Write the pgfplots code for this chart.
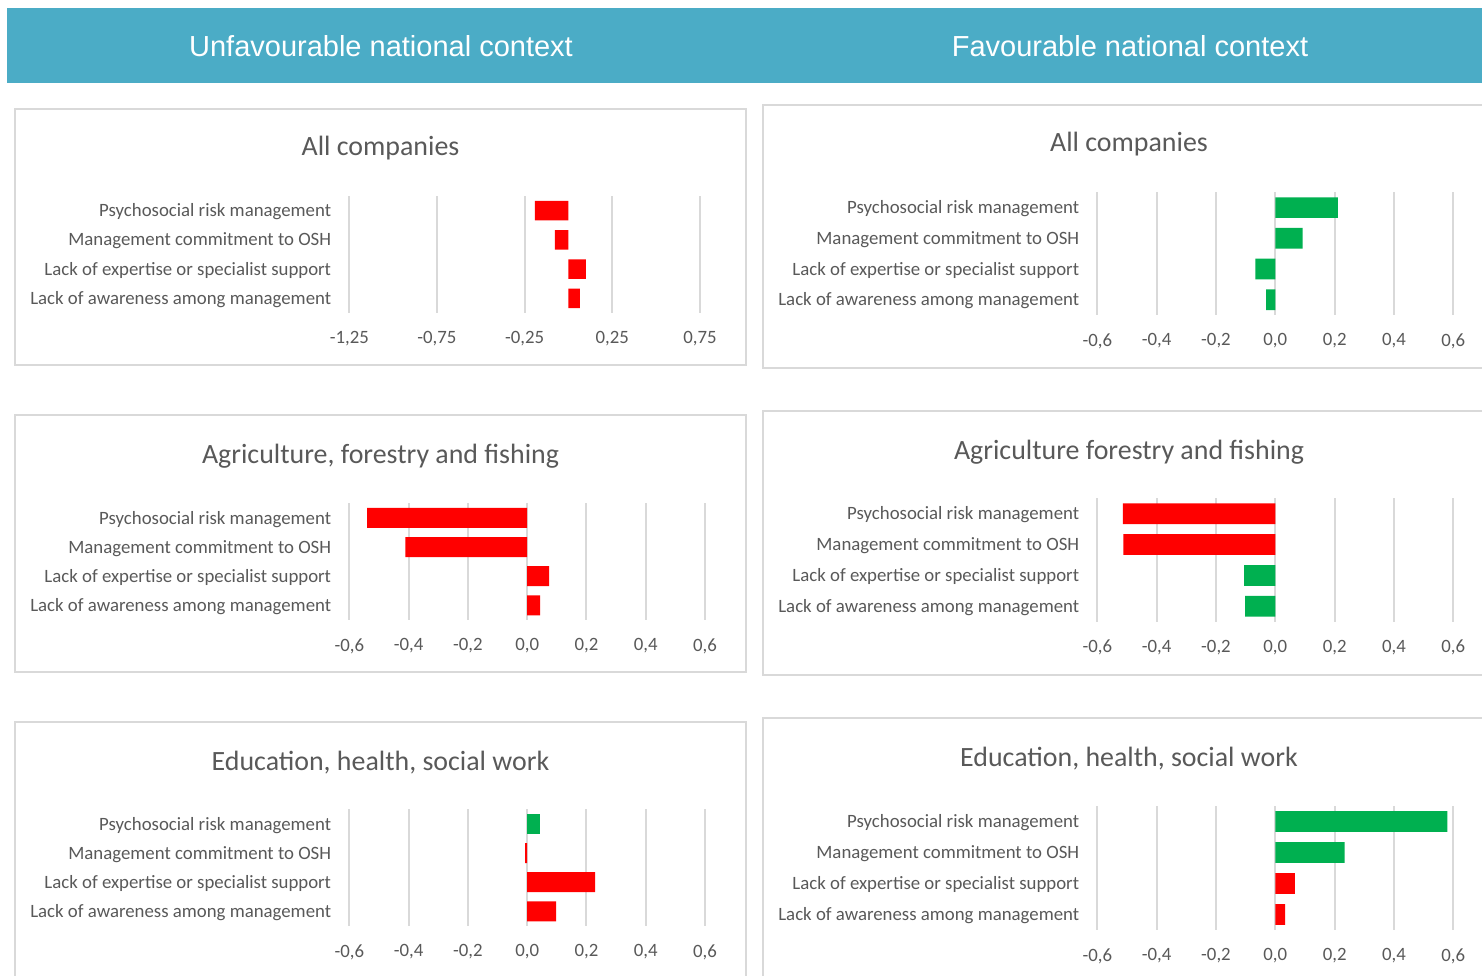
\documentclass[border=0pt]{standalone}
\usepackage{fontspec}
\setmainfont{Carlito}
\newfontfamily\headfont{Liberation Sans}
\usepackage{pgfplots}
\pgfplotsset{compat=1.18}
\definecolor{band}{HTML}{4BACC6}
\definecolor{gridc}{HTML}{D9D9D9}
\definecolor{labc}{HTML}{595959}
\definecolor{barred}{HTML}{FF0000}
\definecolor{bargreen}{HTML}{00B050}

\pgfplotsset{
  panel/.style={
    anchor=north west, scale only axis,
    xbar, bar shift=0pt,
    ymin=-0.5, ymax=3.5, y dir=reverse,
    ytick={0,1,2,3},
    yticklabels={Psychosocial risk management, Management commitment to OSH,
                 Lack of expertise or specialist support, Lack of awareness among management},
    xmajorgrids, ymajorgrids=false,
    major grid style={gridc, line width=2pt},
    axis line style={draw=none}, major tick length=0pt,
    tick label style={font=\fontsize{18.8}{22}\selectfont, text=labc},
    yticklabel style={anchor=east, inner sep=0pt, xshift=-18pt, yshift=-1.2pt},
    xticklabel style={anchor=center, inner sep=0pt, yshift=-26pt},
    clip=false,
  },
  six/.style={xmin=-0.6, xmax=0.6, xtick={-0.6,-0.4,-0.2,0,0.2,0.4,0.6},
    xticklabels={{-0,6},{-0,4},{-0,2},{0,0},{0,2},{0,4},{0,6}}},
}

\begin{document}
\begin{tikzpicture}[x=1pt, y=-1pt]
\useasboundingbox (0,0) rectangle (1482,976);
\clip (0,0) rectangle (1482,976);
\fill[white] (0,0) rectangle (1482,976);

% header band
\fill[band] (7,8) rectangle (1490,83);
\node[anchor=base, text=white, font=\headfont\fontsize{29}{34}\selectfont] at (381,57) {Unfavourable national context};
\node[anchor=base, text=white, font=\headfont\fontsize{29}{34}\selectfont] at (1130,57) {Favourable national context};

% panel frames
\begin{scope}[draw=gridc, line width=2pt]
\draw (15,109) rectangle (746,365);
\draw (15,415) rectangle (746,672);
\draw (15,722) rectangle (746,995);
\draw (763,105) rectangle (1500,368);
\draw (763,411) rectangle (1500,675);
\draw (763,718) rectangle (1500,995);
\end{scope}

% panel titles
\begin{scope}[every node/.style={anchor=base, text=labc, font=\fontsize{27.9}{32}\selectfont}]
\node at (380.5,156) {All companies};
\node at (380.5,463) {Agriculture, forestry and fishing};
\node at (380.5,770) {Education, health, social work};
\node at (1129,152) {All companies};
\node at (1129,459) {Agriculture forestry and fishing};
\node at (1129,766) {Education, health, social work};
\end{scope}

% Unfavourable: all companies
\begin{axis}[panel, at={(349.3pt,-196pt)}, width=350.7pt, height=117pt, bar width=19.7pt,
  xmin=-1.25, xmax=0.75, xtick={-1.25,-0.75,-0.25,0.25,0.75},
  xticklabels={{-1,25},{-0,75},{-0,25},{0,25},{0,75}}]
\addplot[fill=barred, draw=none] coordinates {(-0.192,0) (-0.078,1) (0.099,2) (0.065,3)};
\end{axis}

% Favourable: all companies
\begin{axis}[panel, six, at={(1097.3pt,-192.3pt)}, width=356pt, height=122.7pt, bar width=20.7pt]
\addplot[fill=bargreen, draw=none] coordinates {(0.211,0) (0.092,1) (-0.067,2) (-0.031,3)};
\end{axis}

% Unfavourable: agriculture
\begin{axis}[panel, six, at={(349.3pt,-503.3pt)}, width=355.7pt, height=116.7pt, bar width=20pt]
\addplot[fill=barred, draw=none] coordinates {(-0.540,0) (-0.411,1) (0.074,2) (0.044,3)};
\end{axis}

% Favourable: agriculture
\begin{axis}[panel, six, at={(1097.3pt,-498.3pt)}, width=356pt, height=123.4pt, bar width=20.7pt]
\addplot[fill=barred, draw=none] coordinates {(-0.514,0) (-0.512,1)};
\addplot[fill=bargreen, draw=none] coordinates {(-0.105,2) (-0.102,3)};
\end{axis}

% Unfavourable: education
\begin{axis}[panel, six, at={(349.3pt,-809.3pt)}, width=355.7pt, height=116.7pt, bar width=20pt]
\addplot[fill=bargreen, draw=none] coordinates {(0.044,0)};
\addplot[fill=barred, draw=none] coordinates {(-0.007,1) (0.229,2) (0.098,3)};
\end{axis}

% Favourable: education
\begin{axis}[panel, six, at={(1097.3pt,-806pt)}, width=356pt, height=124pt, bar width=20.7pt]
\addplot[fill=bargreen, draw=none] coordinates {(0.580,0) (0.234,1)};
\addplot[fill=barred, draw=none] coordinates {(0.066,2) (0.033,3)};
\end{axis}
\end{tikzpicture}
\end{document}
